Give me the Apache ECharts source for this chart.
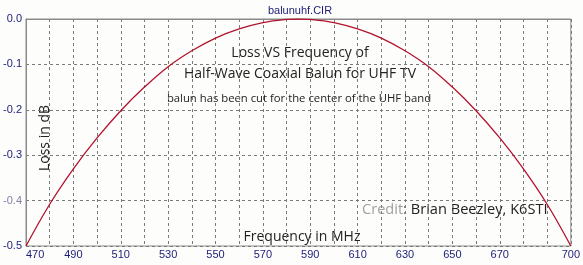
<!DOCTYPE html>
<html><head><meta charset="utf-8">
<script src="https://cdn.jsdelivr.net/npm/echarts@6/dist/echarts.min.js"></script>
<style>html,body{margin:0;padding:0;background:#fdfdfb}#c{width:583px;height:265px}</style>
</head><body><div id="c"></div>
<script>
const freqs = [470,480,490,500,510,520,530,540,550,560,570,580,585,590,600,610,620,630,640,650,660,670,680,690,700];
const losses = [-0.500,-0.408,-0.330,-0.262,-0.202,-0.150,-0.105,-0.070,-0.042,-0.022,-0.008,-0.001,0.000,-0.001,-0.008,-0.022,-0.042,-0.070,-0.105,-0.150,-0.202,-0.262,-0.330,-0.408,-0.500];
const xLabels = [470,490,510,530,550,570,590,610,630,650,670,700];
const yLabels = [0,-0.1,-0.2,-0.3,-0.4,-0.5];

const navy = '#1c1c78';
const chart = echarts.init(document.getElementById('c'), null, {renderer:'canvas'});
chart.setOption({
  backgroundColor: '#fdfdfb',
  animation: false,
  grid: {left:26, right:10, top:19, bottom:19, show:true, borderColor:'#8a8a8a', borderWidth:1},
  xAxis: {
    type:'value', min:470, max:700, interval:10,
    axisLine:{show:true, lineStyle:{color:'#8a8a8a'}},
    axisTick:{show:false},
    splitLine:{show:true, lineStyle:{color:'#7a7a7a', type:[3,3], width:1}},
    axisLabel:{
      color:navy, fontFamily:'Liberation Sans', fontSize:11, margin:3,
      showMinLabel:true, showMaxLabel:true, alignMinLabel:'left', alignMaxLabel:'center',
      formatter: v => xLabels.includes(Math.round(v)) ? String(Math.round(v)) : ''
    }
  },
  yAxis: {
    type:'value', min:-0.5, max:0, interval:0.1,
    axisLine:{show:true, lineStyle:{color:'#8a8a8a'}},
    axisTick:{show:false},
    splitLine:{show:true, lineStyle:{color:'#7a7a7a', type:[3,3], width:1}},
    axisLabel:{
      color:navy, fontFamily:'Liberation Sans', fontSize:11, margin:4,
      formatter: v => {
        const r = Math.round(v*10)/10;
        const s = r.toFixed(1);
        return Math.abs(r + 0.4) < 1e-6 ? '{g|' + s + '}' : s;
      },
      rich:{g:{color:'#8080a8', fontFamily:'Liberation Sans', fontSize:11}}
    }
  },
  series: [{
    type:'line', smooth:0.4, showSymbol:false,
    data: freqs.map((f,i)=>[f, losses[i]]),
    lineStyle:{color:'#b3122e', width:1.3},
    itemStyle:{color:'#b3122e'}
  }],
  graphic: [
    {type:'text', x:300, y:11, style:{text:'balunuhf.CIR', fill:navy, font:'11px "Liberation Sans"', textAlign:'center', textVerticalAlign:'middle'}},
    {type:'text', x:300, y:53, style:{text:'Loss VS Frequency of', fill:'#222', font:'14px "Open Sans"', textAlign:'center', textVerticalAlign:'middle'}},
    {type:'text', x:300, y:74, style:{text:'Half-Wave Coaxial Balun for UHF TV', fill:'#222', font:'14px "Open Sans"', textAlign:'center', textVerticalAlign:'middle'}},
    {type:'text', x:299, y:99, style:{text:'balun has been cut for the center of the UHF band', fill:'#222', font:'11.3px "Open Sans"', textAlign:'center', textVerticalAlign:'middle'}},
    {type:'text', x:45, y:138, rotation:Math.PI/2, style:{text:'Loss in dB', fill:'#222', font:'14px "Open Sans"', textAlign:'center', textVerticalAlign:'middle'}},
    {type:'text', x:302, y:237, style:{text:'Frequency in MHz', fill:'#222', font:'14px "Open Sans"', textAlign:'center', textVerticalAlign:'middle'}},
    {type:'text', x:362, y:210, style:{text:'{g|Credit}{d|: Brian Beezley, K6STI}', textVerticalAlign:'middle',
      rich:{g:{fill:'#a0a0a0', font:'14.6px "Open Sans"'}, d:{fill:'#222', font:'14.6px "Open Sans"'}}}}
  ]
});
</script></body></html>
